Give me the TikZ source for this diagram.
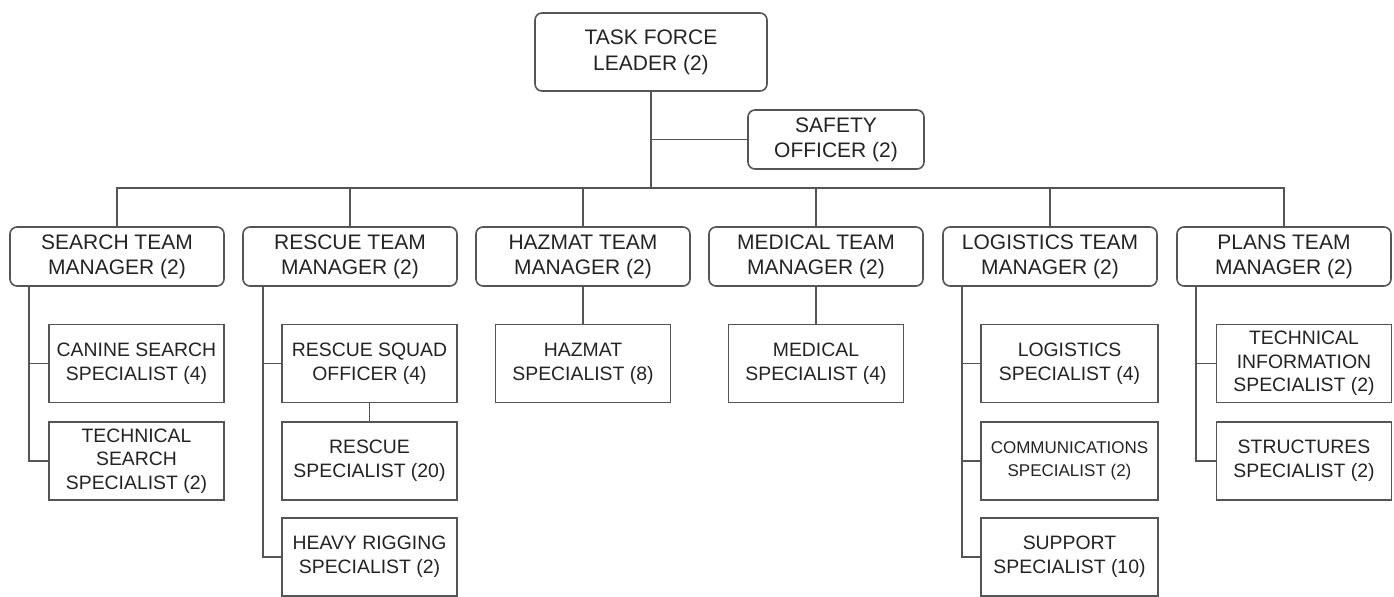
\documentclass[tikz,border=0pt]{standalone}
\usepackage{fontspec}
\setmainfont{Liberation Sans}
\usetikzlibrary{positioning}
\definecolor{linegray}{RGB}{85,85,85}
\definecolor{textgray}{RGB}{35,35,35}

\begin{document}
\begin{tikzpicture}[x=0.5pt,y=-0.5pt,
  every node/.style={text=textgray, align=center, inner sep=0pt},
  mgrbox/.style={draw=linegray, line width=0.8pt, rounded corners=3.5pt,
    minimum width=107pt, minimum height=29.5pt, font=\fontsize{10.5}{12.5}\selectfont},
  specbox/.style={draw=linegray, line width=0.8pt,
    minimum width=87.5pt, minimum height=39pt, font=\fontsize{9.7}{11.9}\selectfont},
  link/.style={draw=linegray, line width=0.8pt}]
\useasboundingbox (0,0) rectangle (1394,597);

% top of the tree
\node[mgrbox, minimum width=116pt, minimum height=39pt, font=\fontsize{10.5}{13}\selectfont]
  (leader) at (651,52) {TASK FORCE\\LEADER (2)};
\node[mgrbox, minimum width=88pt] (safety) at (836,139.5) {SAFETY\\OFFICER (2)};

% team managers
\node[mgrbox] (search) at (117,256.5) {SEARCH TEAM\\MANAGER (2)};
\node[mgrbox] (rescue) at (350,256.5) {RESCUE TEAM\\MANAGER (2)};
\node[mgrbox] (hazmat) at (583,256.5) {HAZMAT TEAM\\MANAGER (2)};
\node[mgrbox] (medical) at (816,256.5) {MEDICAL TEAM\\MANAGER (2)};
\node[mgrbox] (logistics) at (1050,256.5) {LOGISTICS TEAM\\MANAGER (2)};
\node[mgrbox] (plans) at (1284,256.5) {PLANS TEAM\\MANAGER (2)};

% specialists
\node[specbox] (canine) at (136.5,363.5) {CANINE SEARCH\\SPECIALIST (4)};
\node[specbox, font=\fontsize{9.7}{11.7}\selectfont] (techsearch) at (136.5,461) {TECHNICAL\\SEARCH\\SPECIALIST (2)};
\node[specbox] (squad) at (369.5,363.5) {RESCUE SQUAD\\OFFICER (4)};
\node[specbox] (rescuespec) at (369.5,461) {RESCUE\\SPECIALIST (20)};
\node[specbox] (rigging) at (369.5,557) {HEAVY RIGGING\\SPECIALIST (2)};
\node[specbox] (hazmatspec) at (583,363.5) {HAZMAT\\SPECIALIST (8)};
\node[specbox] (medicalspec) at (816,363.5) {MEDICAL\\SPECIALIST (4)};
\node[specbox, minimum width=88.5pt] (logspec) at (1069.5,363.5) {LOGISTICS\\SPECIALIST (4)};
\node[specbox, minimum width=88.5pt, font=\fontsize{8.5}{11.5}\selectfont] (comms) at (1069.5,461) {COMMUNICATIONS\\SPECIALIST (2)};
\node[specbox, minimum width=88.5pt] (support) at (1069.5,557) {SUPPORT\\SPECIALIST (10)};
\node[specbox, font=\fontsize{9.7}{11.7}\selectfont] (techinfo) at (1304,363.5) {TECHNICAL\\INFORMATION\\SPECIALIST (2)};
\node[specbox] (structures) at (1304,461) {STRUCTURES\\SPECIALIST (2)};

\coordinate (bus) at (0,188);
\coordinate (searchsp) at (29,0);
\coordinate (rescuesp) at (263,0);
\coordinate (logsp) at (962,0);
\coordinate (planssp) at (1196,0);

% leader to managers
\draw[link] (leader.south) -- (leader.south |- bus);
\draw[link] (leader.south |- safety.west) -- (safety.west);
\draw[link] (search.north) -- (search.north |- bus) -- (plans.north |- bus) -- (plans.north);
\foreach \m in {rescue,hazmat,medical,logistics}
  \draw[link] (\m.north) -- (\m.north |- bus);

% managers to specialists
\draw[link] (searchsp |- search.south) |- (techsearch.west);
\draw[link] (searchsp |- canine.west) -- (canine.west);
\draw[link] (rescuesp |- rescue.south) |- (rigging.west);
\draw[link] (rescuesp |- squad.west) -- (squad.west);
\draw[link] (squad.south) -- (rescuespec.north);
\draw[link] (hazmat.south) -- (hazmatspec.north);
\draw[link] (medical.south) -- (medicalspec.north);
\draw[link] (logsp |- logistics.south) |- (support.west);
\draw[link] (logsp |- logspec.west) -- (logspec.west);
\draw[link] (logsp |- comms.west) -- (comms.west);
\draw[link] (planssp |- plans.south) |- (structures.west);
\draw[link] (planssp |- techinfo.west) -- (techinfo.west);
\end{tikzpicture}
\end{document}
